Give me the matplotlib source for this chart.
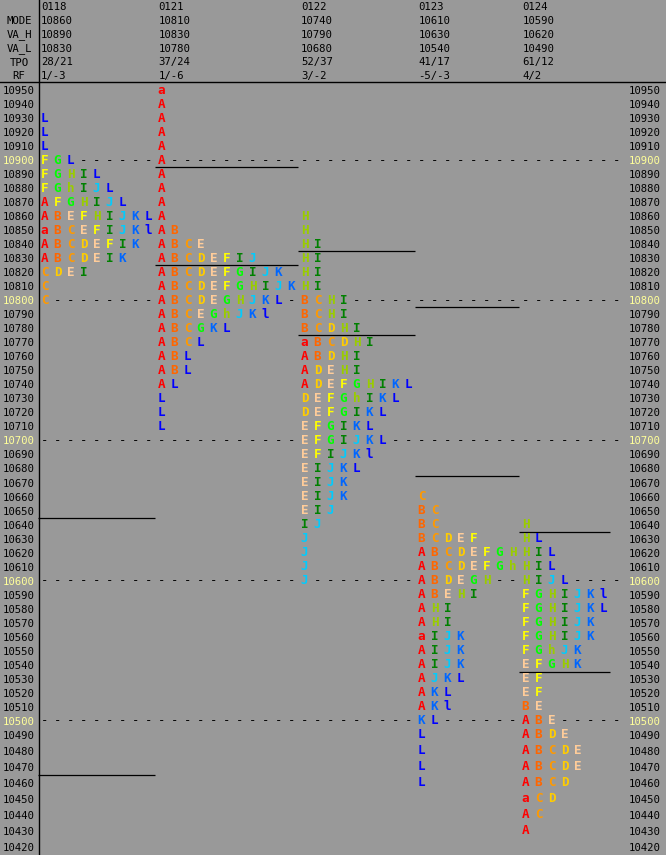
import numpy as np
import matplotlib
matplotlib.use("Agg")
import matplotlib.pyplot as plt
from matplotlib import transforms, font_manager
from matplotlib.lines import Line2D
from matplotlib.ticker import NullLocator

# header values per day
dates = ["0118", "0121", "0122", "0123", "0124"]
mode = [10860, 10810, 10740, 10610, 10590]
va_h = [10890, 10830, 10790, 10630, 10620]
va_l = [10830, 10780, 10680, 10540, 10490]
tpo = ["28/21", "37/24", "52/37", "41/17", "61/12"]
rf = ["1/-3", "1/-6", "3/-2", "-5/-3", "4/2"]

# value area of the day before (drawn as lines in each column)
prev_va_h = [10640, 10890, 10830, 10790, 10630]
prev_va_l = [10470, 10830, 10780, 10680, 10540]

# profiles: top price, then one string of letters per 10 point row going down
top_0118 = 10930
rows_0118 = ["L", "L", "L", "FGL", "FGHIL", "FGhIJL", "AFGHIJL", "ABEFHIJKL",
             "aBCEFIJKl", "ABCDEFIK", "ABCDEIK", "CDEI", "C", "C"]
top_0121 = 10950
rows_0121 = ["a", "A", "A", "A", "A", "A", "A", "A", "A", "A", "AB", "ABCE",
             "ABCDEFIJ", "ABCDEFGIJK", "ABCDEFGHIJK", "ABCDEGHJKL", "ABCEGhJKl",
             "ABCGKL", "ABCL", "ABL", "ABL", "AL", "L", "L", "L"]
top_0122 = 10860
rows_0122 = ["H", "H", "HI", "HI", "HI", "HI", "BCHI", "BCHI", "BCDHI", "aBCDHI",
             "ABDHI", "ADEHI", "ADEFGHIKL", "DEFGhIKL", "DEFGIKL", "EFGIKL",
             "EFGIJKL", "EFIJKl", "EIJKL", "EIJK", "EIJK", "EIJ", "IJ", "J", "J",
             "J", "J"]
top_0123 = 10660
rows_0123 = ["C", "BC", "BC", "BCDEF", "ABCDEFGH", "ABCDEFGh", "ABDEGH", "ABEHI",
             "AHI", "AHI", "aIJK", "AIJK", "AIJK", "AJKL", "AKL", "AKl", "KL",
             "L", "L", "L", "L"]
top_0124 = 10640
rows_0124 = ["H", "HL", "HIL", "HIL", "HIJL", "FGHIJKl", "FGHIJKL", "FGHIJK",
             "FGHIJK", "FGhJK", "EFGHK", "EF", "EF", "BE", "ABE", "ABDE", "ABCDE",
             "ABCDE", "ABCD", "aCD", "AC", "A"]

tops = [top_0118, top_0121, top_0122, top_0123, top_0124]
profiles = [rows_0118, rows_0121, rows_0122, rows_0123, rows_0124]

price_ticks = list(range(10950, 10410, -10))

colors = {"A": "#FF0000", "B": "#FF6600", "C": "#FF9900", "D": "#FFCC00",
          "E": "#FFCC99", "F": "#FFFF00", "G": "#00FF00", "H": "#99CC00",
          "I": "#008000", "J": "#00CCFF", "K": "#0066FF", "L": "#0000FF"}
bg = "#999999"

names = {f.name for f in font_manager.fontManager.ttflist}
if "Liberation Sans Narrow" in names:
    label_font, label_size = "Liberation Sans Narrow", 9
else:
    label_font, label_size = "DejaVu Sans Mono", 7.7


# rows are 14px apart, the last ones (below 10490) 16px
def fwd(p):
    p = np.asarray(p, dtype=float)
    return np.where(p >= 10490, (p - 10490) / 10 * 14, (p - 10490) / 10 * 16)


def inv(v):
    v = np.asarray(v, dtype=float)
    return np.where(v >= 0, 10490 + v * 10 / 14, 10490 + v * 10 / 16)


W, H = 666, 855
fig = plt.figure(figsize=(W / 100, H / 100), dpi=100, facecolor=bg)
ax = fig.add_axes([38 / W, 0, 585 / W, 772 / H])
ax.set_facecolor(bg)
ax.set_yscale("function", functions=(fwd, inv))

widths = [max(len(r) for r in rows) for rows in profiles]
starts = np.concatenate([[0], np.cumsum(widths)[:-1]])
ncells = sum(widths) + 1
ax.set_xlim(0, ncells)
ax.set_ylim(10415, 10955)

occupied = {}
for top, rows, s in zip(tops, profiles, starts):
    for k, row in enumerate(rows):
        p = top - 10 * k
        for i, ch in enumerate(row):
            ax.text(s + i + 0.5, p, ch, ha="center", va="center", fontsize=9.1,
                    fontweight="bold", family="DejaVu Sans Mono",
                    color=colors[ch.upper()])
            occupied.setdefault(p, set()).add(s + i)

# dashes on the round hundreds
for p in range(10500, 10901, 100):
    for c in range(ncells):
        if c not in occupied.get(p, set()):
            ax.text(c + 0.5, p, "-", ha="center", va="center", fontsize=9,
                    family="DejaVu Sans Mono", color="black")

# previous day's value area lines
for s, w, h, l in zip(starts, widths, prev_va_h, prev_va_l):
    ax.hlines([h + 5, l - 5], s, s + w, color="black", lw=0.9)

ax.set_xticks([])
ax.set_yticks(price_ticks)
ax.set_yticklabels([str(p) for p in price_ticks])
ax.yaxis.set_minor_locator(NullLocator())
ax.tick_params(axis="y", length=0, labelleft=True, labelright=True, pad=2.2,
               labelsize=label_size)
for tick, p in zip(ax.yaxis.get_major_ticks(), price_ticks):
    c = "#FFFF99" if p % 100 == 0 else "black"
    for lab in (tick.label1, tick.label2):
        lab.set_color(c)
        lab.set_family(label_font)
    tick.label2.set_transform(tick.label2.get_transform() +
                              transforms.ScaledTranslation(3 / 100, 0, fig.dpi_scale_trans))
for sp in ax.spines.values():
    sp.set_visible(False)

# header
trans = transforms.blended_transform_factory(ax.transData, fig.transFigure)
header = [dates, mode, va_h, va_l, tpo, rf]
names_h = ["", "MODE", "VA_H", "VA_L", "TPO", "RF"]
for j, (name, vals) in enumerate(zip(names_h, header)):
    y = 1 - (6.7 + 13.95 * j) / H
    if name:
        fig.text(19 / W, y, name, ha="center", va="center", fontsize=label_size,
                 family=label_font, color="black")
    for s, v in zip(starts, vals):
        ax.text(s + 0.25, y, str(v), transform=trans, ha="left", va="center",
                fontsize=label_size, family=label_font, color="black")

fig.add_artist(Line2D([0, 1], [1 - 82.5 / H] * 2, color="black", lw=1.0))
fig.add_artist(Line2D([38.5 / W] * 2, [0, 1], color="black", lw=1.0))

fig.savefig("out.png", dpi=100, facecolor=bg)
